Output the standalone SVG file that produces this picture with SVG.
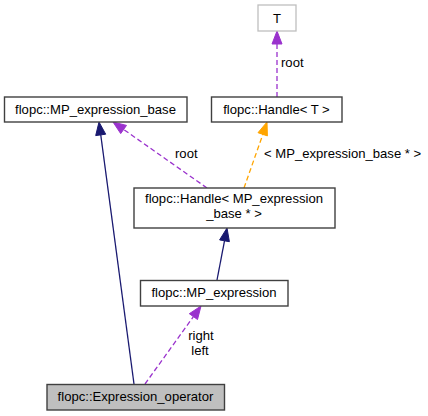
<svg xmlns="http://www.w3.org/2000/svg" width="428" height="416" viewBox="0 0 428 416">
<style>
text{font-family:"Liberation Sans",Arial,sans-serif;font-size:13.1px;fill:#000}
.n{fill:#fff;stroke:#404040;stroke-width:1.4}
.m{text-anchor:middle}
.p{stroke:#9a32cd;fill:none;stroke-width:1.3;stroke-dasharray:5,3}
.o{stroke:#ffa500;fill:none;stroke-width:1.3;stroke-dasharray:5,3}
.b{stroke:#191970;fill:none;stroke-width:1.3}
.pa{fill:#9a32cd;stroke:#9a32cd}
.oa{fill:#ffa500;stroke:#ffa500}
.ba{fill:#191970;stroke:#191970}
</style>
<rect width="428" height="416" fill="#fff"/>
<g id="connectors">
<line class="p" x1="277" y1="97" x2="277" y2="44"/>
<polygon class="pa" points="277,31 282,44 272,44"/>
<text x="281" y="67">root</text>
<line class="p" x1="207" y1="188" x2="123" y2="129"/>
<polygon class="pa" points="113,122 126.5,125.4 120.7,133.6"/>
<text x="175" y="158">root</text>
<line class="o" x1="244" y1="188" x2="263" y2="134"/>
<polygon class="oa" points="267,122 267.4,135.9 258,132.7"/>
<text x="264" y="158">&lt; MP_expression_base * &gt;</text>
<line class="b" x1="134" y1="384" x2="100.7" y2="134.5"/>
<polygon class="ba" points="99,122 105.7,134.2 95.7,135.6"/>
<line class="b" x1="217" y1="280" x2="224.5" y2="240.8"/>
<polygon class="ba" points="227,228 229.4,241.7 219.6,239.9"/>
<line class="p" x1="145" y1="384" x2="193.4" y2="316.6"/>
<polygon class="pa" points="201,306 197.5,319.5 189.3,313.7"/>
<text class="m" x="201" y="340">right</text>
<text class="m" x="200" y="354.5">left</text>
</g>
<g id="T">
<rect x="258" y="5" width="38" height="26" fill="#fff" stroke="#bfbfbf" stroke-width="1.3"/>
<text class="m" x="277" y="23">T</text>
</g>
<g id="MP_expression_base">
<rect class="n" x="4.5" y="97" width="182.5" height="25"/>
<text class="m" x="95.5" y="114">flopc::MP_expression_base</text>
</g>
<g id="Handle_T">
<rect class="n" x="211.5" y="97" width="130.5" height="25"/>
<text class="m" x="276.5" y="114">flopc::Handle&lt; T &gt;</text>
</g>
<g id="Handle_MP_expression_base">
<rect class="n" x="134" y="188" width="201" height="40"/>
<text class="m" x="234" y="203">flopc::Handle&lt; MP_expression</text>
<text class="m" x="234" y="217.5">_base * &gt;</text>
</g>
<g id="MP_expression">
<rect class="n" x="140.5" y="280.5" width="147.5" height="25.5"/>
<text class="m" x="214" y="297">flopc::MP_expression</text>
</g>
<g id="Expression_operator">
<rect x="47" y="384.5" width="177.5" height="25.5" fill="#bfbfbf" stroke="#404040" stroke-width="1.4"/>
<text class="m" x="135.5" y="401">flopc::Expression_operator</text>
</g>
</svg>
